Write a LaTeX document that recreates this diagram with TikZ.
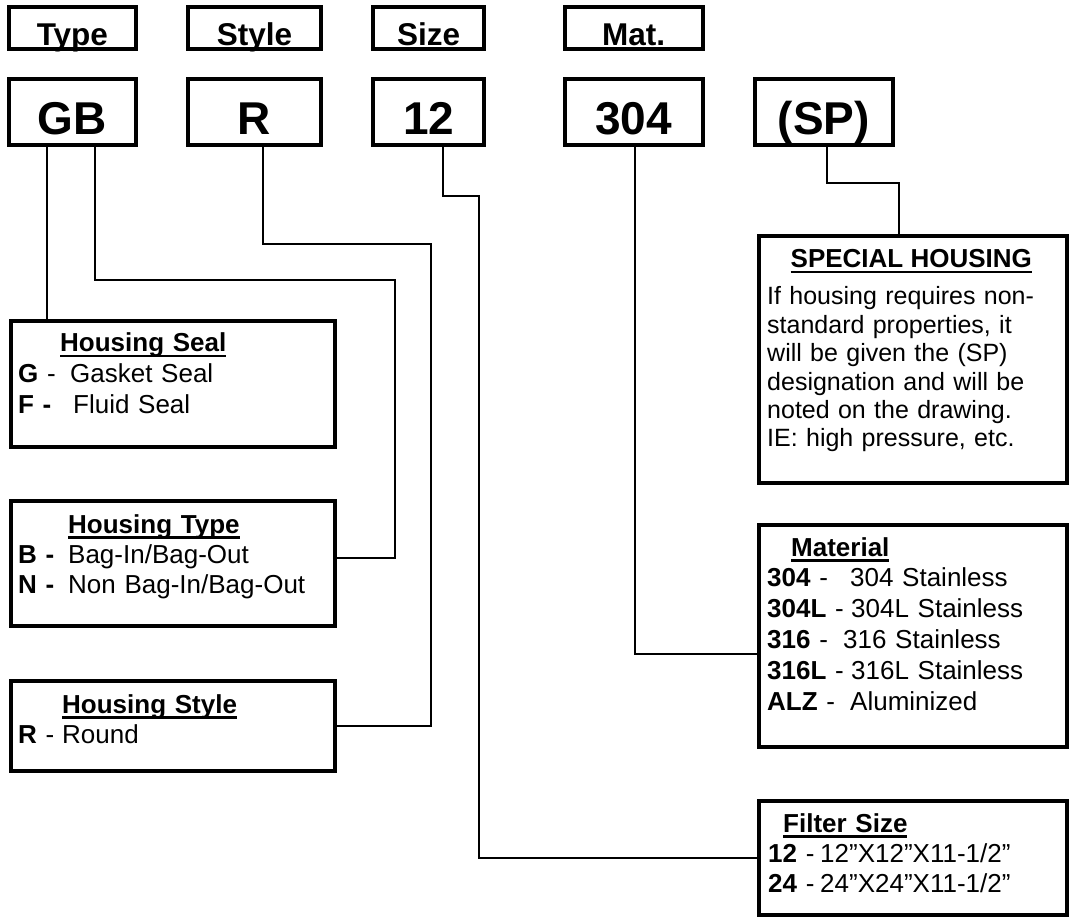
\documentclass[tikz,border=0pt]{standalone}
\usepackage{fontspec}
\setmainfont{Liberation Sans}
\newcommand{\ulin}[1]{\setbox0=\hbox{#1}\rlap{\rule[-5.5pt]{\wd0}{2.2pt}}\box0\relax}
\newcommand{\bodyfont}[1]{\fontsize{26pt}{#1}\selectfont\lineskiplimit=-100pt\relax}
\newcommand{\spfont}[1]{\fontsize{25pt}{#1}\selectfont\lineskiplimit=-100pt\relax}
\begin{document}
\begin{tikzpicture}[x=1pt,y=-1pt,
  hdr/.style={draw,line width=4pt,inner sep=0pt,anchor=base,text height=39pt,text depth=2.7pt,font=\fontsize{31.5pt}{34pt}\selectfont\bfseries},
  code/.style={draw,line width=4pt,inner sep=0pt,anchor=base,text height=55.7pt,text depth=10.3pt,font=\fontsize{46pt}{50pt}\selectfont\bfseries},
  bigbox/.style={draw,line width=4pt,inner sep=0pt,anchor=north west},
  body/.style={anchor=base west,inner sep=0pt,align=left,text width=300pt,font=\bodyfont{#1}},
  conn/.style={line width=2pt}]
\useasboundingbox (0,0) rectangle (1069,917);
% header boxes
\node[hdr,minimum width=127.3pt] (hType) at (72.35,46) {Type};
\node[hdr,minimum width=133.6pt] (hStyle) at (254.5,46) {Style};
\node[hdr,minimum width=111.3pt] (hSize) at (428.65,46) {Size};
\node[hdr,minimum width=138pt] (hMat) at (633.7,46) {Mat.};
% code boxes
\node[code,minimum width=127.3pt] (GB) at (72.35,135) {GB};
\node[code,minimum width=133.6pt] (R) at (254.5,135) {R};
\node[code,minimum width=111.3pt] (sz) at (428.65,135) {12};
\node[code,minimum width=138pt] (mat) at (633.7,135) {304};
\node[code,minimum width=138pt] (sp) at (823.7,135) {(SP)};
% description boxes
\node[bigbox,minimum width=324.6pt,minimum height=126.3pt] (seal) at (8.7,318.7) {};
\node[bigbox,minimum width=324.6pt,minimum height=125pt] (htype) at (8.7,498.7) {};
\node[bigbox,minimum width=324.6pt,minimum height=90pt] (hstyle) at (8.7,678.7) {};
\node[bigbox,minimum width=308pt,minimum height=247.6pt] (special) at (757.3,233.7) {};
\node[bigbox,minimum width=308pt,minimum height=222pt] (material) at (757.3,522.7) {};
\node[bigbox,minimum width=308pt,minimum height=114pt] (filter) at (757.3,798.7) {};
% texts
\node[body=31pt] (sealtxt) at (18,352) {\hspace*{42pt}\ulin{\textbf{Housing Seal}}\\
\makebox[52pt][l]{\textbf{G} -}Gasket Seal\\
\makebox[55pt][l]{\textbf{F -}}Fluid Seal};
\node[body=30pt] (typetxt) at (18,533) {\hspace*{50pt}\ulin{\textbf{Housing Type}}\\
\makebox[50pt][l]{\textbf{B -}}Bag-In/Bag-Out\\
\makebox[50pt][l]{\textbf{N -}}Non Bag-In/Bag-Out};
\node[body=30pt] (styletxt) at (18,713) {\hspace*{44pt}\ulin{\textbf{Housing Style}}\\
\makebox[44pt][l]{\textbf{R} -}Round};
\node[anchor=base,inner sep=0pt,font=\bodyfont{30pt}] (sptitle) at (911.3,268) {\ulin{\textbf{SPECIAL HOUSING}}};
\node[body=28.4pt,font=\spfont{28.4pt}] (sptxt) at (767,305) {If housing requires non-\\
standard properties, it\\
will be given the (SP)\\
designation and will be\\
noted on the drawing.\\
IE: high pressure, etc.};
\node[body=30.8pt] (mattxt) at (767,556) {\hspace*{24pt}\ulin{\textbf{Material}}\\
\makebox[83pt][l]{\textbf{304} -}304 Stainless\\
\makebox[84pt][l]{\textbf{304L} -}304L Stainless\\
\makebox[76pt][l]{\textbf{316} -}316 Stainless\\
\makebox[84pt][l]{\textbf{316L} -}316L Stainless\\
\makebox[83pt][l]{\textbf{ALZ} -}Aluminized};
\node[body=30pt] (filtxt) at (768,832) {\hspace*{15pt}\ulin{\textbf{Filter Size}}\\
\makebox[52pt][l]{\textbf{12} -}12”X12”X11-1/2”\\
\makebox[52pt][l]{\textbf{24} -}24”X24”X11-1/2”};
% connectors
\coordinate (b1) at (395.3,280);
\coordinate (b2) at (431,244);
\coordinate (b3) at (479.3,196);
\coordinate (b4) at (899.3,183.3);
\draw[conn] ([xshift=-25.65pt]GB.south) -- ([xshift=-25.65pt]GB.south |- seal.north);
\draw[conn] ([xshift=22.65pt]GB.south) |- (b1) |- ([yshift=5.5pt]htype.east);
\draw[conn] ([xshift=8.5pt]R.south) |- (b2) |- (hstyle.east);
\draw[conn] ([xshift=14.35pt]sz.south) |- (b3) |- (filter.west);
\draw[conn] ([xshift=1pt]mat.south) |- ([yshift=-18pt]material.west);
\draw[conn] ([xshift=3pt]sp.south) |- (b4) -- (b4 |- special.north);
\end{tikzpicture}
\end{document}
